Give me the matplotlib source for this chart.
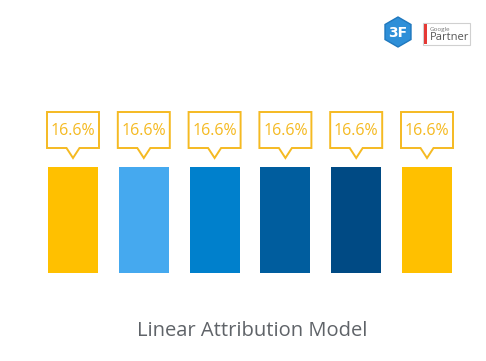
import matplotlib
matplotlib.use("Agg")
import matplotlib.pyplot as plt
from matplotlib.patches import Polygon, RegularPolygon, Rectangle

channels = ["Touch 1", "Touch 2", "Touch 3", "Touch 4", "Touch 5", "Touch 6"]
shares = [16.6, 16.6, 16.6, 16.6, 16.6, 16.6]
labels = ["16.6%", "16.6%", "16.6%", "16.6%", "16.6%", "16.6%"]
colors = ["#FFC000", "#45A9EF", "#0080CC", "#005D9E", "#004A84", "#FFC000"]
title = "Linear Attribution Model"

W, H = 486, 361
fig = plt.figure(figsize=(W / 100, H / 100), dpi=100)
fig.patch.set_facecolor("white")

# axes in pixel geometry
left, right = 37.6, 462.4
bottom_px, top_px = 273, 100
ax = fig.add_axes([left / W, 1 - bottom_px / H, (right - left) / W, (bottom_px - top_px) / H])
px_per_unit = 106 / 16.6
ymax = (bottom_px - top_px) / px_per_unit
ax.set_xlim(-0.5, 5.5)
ax.set_ylim(0, ymax)
ax.axis("off")

xs = list(range(len(channels)))
ax.bar(xs, shares, width=50 / 70.8, color=colors, edgecolor="none")

u = 1 / px_per_unit  # data units per pixel (y)
xu = 1 / 70.8        # data units per pixel (x)
gold = "#F5BA22"
for x, v, lab in zip(xs, shares, labels):
    tip = v + 9 * u
    bb = v + 19 * u
    bt = v + 55 * u
    hw = 26 * xu
    pw = 6.5 * xu
    pts = [(x - hw, bt), (x + hw, bt), (x + hw, bb), (x + pw, bb), (x, tip),
           (x - pw, bb), (x - hw, bb)]
    ax.add_patch(Polygon(pts, closed=True, facecolor="white", edgecolor=gold, lw=1.4))
    ax.text(x, (bb + bt) / 2 - 1.5 * u, lab, ha="center", va="center", color=gold,
            fontsize=11.5, family="Open Sans")

fig.text(252 / W, 1 - 331 / H, title, ha="center", va="center", color="#5F6368",
         fontsize=14.5, family="Open Sans")

# logo
lax = fig.add_axes([0, 0, 1, 1])
lax.set_xlim(0, W)
lax.set_ylim(H, 0)
lax.axis("off")
lax.add_patch(RegularPolygon((398, 32), numVertices=6, radius=15, orientation=0,
                             facecolor="#2E8FD8", edgecolor="#1F78BE", lw=1))
lax.text(398, 33, "3F", ha="center", va="center", color="white", fontsize=10,
         fontweight="bold", family="DejaVu Sans")
lax.add_patch(Rectangle((423, 23), 47, 22, facecolor="white", edgecolor="#D0D0D0", lw=0.8))
lax.add_patch(Rectangle((424, 24), 3, 20, facecolor="#E53935", edgecolor="none"))
lax.text(430, 29, "Google", ha="left", va="center", color="#777777", fontsize=4.5,
         family="Open Sans")
lax.text(429.5, 38, "Partner", ha="left", va="center", color="#555555", fontsize=8,
         family="Open Sans")

fig.savefig("out.png", dpi=100, facecolor="white")
